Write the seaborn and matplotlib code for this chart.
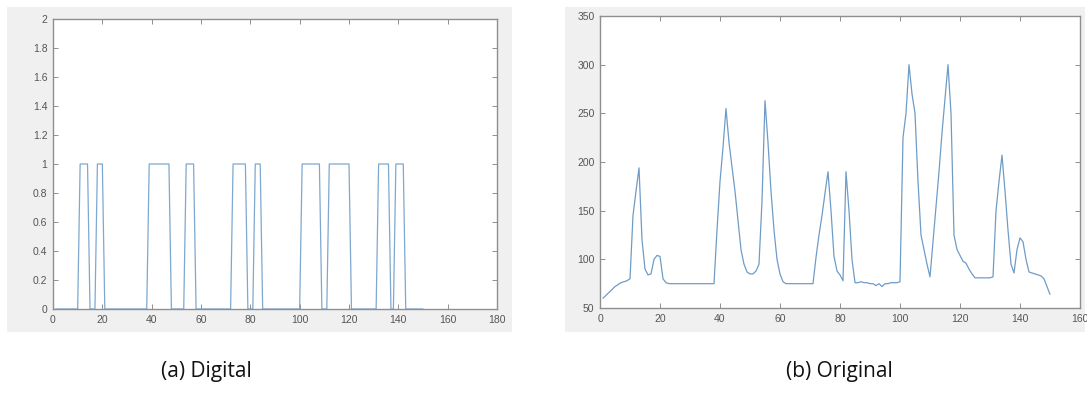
import numpy as np
import pandas as pd
import matplotlib
matplotlib.use("Agg")
import matplotlib.pyplot as plt
from matplotlib.patches import Rectangle
import seaborn as sns

# ---------------- data ----------------
sample_index = list(range(1, 151))

original_values = [
    60, 63, 66, 69, 72, 74, 76, 77, 78, 80,            # 1-10
    145, 170, 194, 120, 90, 84, 85, 100, 104, 103,     # 11-20
    80, 76, 75, 75, 75, 75, 75, 75, 75, 75,            # 21-30
    75, 75, 75, 75, 75, 75, 75, 75, 130, 180,          # 31-40
    215, 255, 220, 195, 170, 140, 110, 95, 87, 85,     # 41-50
    85, 88, 95, 160, 263, 220, 170, 130, 100, 85,      # 51-60
    77, 75, 75, 75, 75, 75, 75, 75, 75, 75,            # 61-70
    75, 102, 125, 145, 168, 190, 150, 103, 88, 84,     # 71-80
    78, 190, 150, 100, 76, 76, 77, 76, 76, 75,         # 81-90
    75, 73, 75, 72, 75, 75, 76, 76, 76, 77,            # 91-100
    225, 250, 300, 270, 250, 180, 125, 110, 95, 82,    # 101-110
    118, 155, 190, 230, 265, 300, 250, 125, 110, 104,  # 111-120
    98, 96, 90, 85, 81, 81, 81, 81, 81, 81,            # 121-130
    82, 150, 180, 207, 170, 130, 95, 86, 110, 122,     # 131-140
    118, 100, 87, 86, 85, 84, 83, 80, 72, 64,          # 141-150
]

digital_values = [
    0, 0, 0, 0, 0, 0, 0, 0, 0, 0,    # 1-10
    1, 1, 1, 1, 0, 0, 0, 1, 1, 1,    # 11-20
    0, 0, 0, 0, 0, 0, 0, 0, 0, 0,    # 21-30
    0, 0, 0, 0, 0, 0, 0, 0, 1, 1,    # 31-40
    1, 1, 1, 1, 1, 1, 1, 0, 0, 0,    # 41-50
    0, 0, 0, 1, 1, 1, 1, 0, 0, 0,    # 51-60
    0, 0, 0, 0, 0, 0, 0, 0, 0, 0,    # 61-70
    0, 0, 1, 1, 1, 1, 1, 1, 0, 0,    # 71-80
    0, 1, 1, 1, 0, 0, 0, 0, 0, 0,    # 81-90
    0, 0, 0, 0, 0, 0, 0, 0, 0, 0,    # 91-100
    1, 1, 1, 1, 1, 1, 1, 1, 0, 0,    # 101-110
    0, 1, 1, 1, 1, 1, 1, 1, 1, 1,    # 111-120
    0, 0, 0, 0, 0, 0, 0, 0, 0, 0,    # 121-130
    0, 1, 1, 1, 1, 1, 0, 0, 1, 1,    # 131-140
    1, 1, 0, 0, 0, 0, 0, 0, 0, 0,    # 141-150
]

digital_xticks = [0, 20, 40, 60, 80, 100, 120, 140, 160, 180]
digital_yticks = [0, 0.2, 0.4, 0.6, 0.8, 1, 1.2, 1.4, 1.6, 1.8, 2]
digital_yticklabels = ["0", "0.2", "0.4", "0.6", "0.8", "1", "1.2", "1.4", "1.6", "1.8", "2"]
original_xticks = [0, 20, 40, 60, 80, 100, 120, 140, 160]
original_yticks = [50, 100, 150, 200, 250, 300, 350]

captions = ["(a) Digital", "(b) Original"]

df_digital = pd.DataFrame({"x": sample_index, "y": digital_values})
df_original = pd.DataFrame({"x": sample_index, "y": original_values})

# ---------------- style ----------------
sns.set_style("white")
plt.rcParams["font.family"] = ["Liberation Sans", "DejaVu Sans"]

W, H = 1087, 393
fig = plt.figure(figsize=(W / 100, H / 100), dpi=100)
fig.patch.set_facecolor("white")

panel_bg = "#f0f0f0"
fig.patches.append(Rectangle((7 / W, 1 - 332 / H), 505 / W, 325 / H,
                             transform=fig.transFigure, facecolor=panel_bg,
                             edgecolor="none", zorder=-10))
fig.patches.append(Rectangle((565 / W, 1 - 332 / H), 520 / W, 325 / H,
                             transform=fig.transFigure, facecolor=panel_bg,
                             edgecolor="none", zorder=-10))

ax1 = fig.add_axes([53 / W, 1 - 309 / H, (497 - 53) / W, (309 - 19) / H])
ax2 = fig.add_axes([600 / W, 1 - 308 / H, (1080 - 600) / W, (308 - 16) / H])
ax1.set_zorder(5)
ax2.set_zorder(5)

line_color = "#7ea8cf"
sns.lineplot(data=df_digital, x="x", y="y", ax=ax1, color=line_color,
             linewidth=0.9, estimator=None, sort=False)
sns.lineplot(data=df_original, x="x", y="y", ax=ax2, color="#6f9cc6",
             linewidth=0.9, estimator=None, sort=False)

spine_color = "#8f8f8f"
label_color = "#555555"
for ax in (ax1, ax2):
    ax.set_facecolor("white")
    ax.set_xlabel("")
    ax.set_ylabel("")
    for s in ax.spines.values():
        s.set_visible(True)
        s.set_color(spine_color)
        s.set_linewidth(1.0)
        s.set_zorder(3)
    ax.tick_params(direction="in", length=3.5, width=0.7, color=spine_color,
                   labelcolor=label_color, labelsize=7.5, top=True, right=True,
                   left=True, bottom=True, pad=4)

ax1.set_xlim(0, 180)
ax1.set_ylim(0, 2)
ax1.set_xticks(digital_xticks)
ax1.set_xticklabels([str(v) for v in digital_xticks])
ax1.set_yticks(digital_yticks)
ax1.set_yticklabels(digital_yticklabels)

ax2.set_xlim(0, 160)
ax2.set_ylim(50, 350)
ax2.set_xticks(original_xticks)
ax2.set_xticklabels([str(v) for v in original_xticks])
ax2.set_yticks(original_yticks)
ax2.set_yticklabels([str(v) for v in original_yticks])

cap_font = ["Open Sans", "DejaVu Sans"]
fig.text(206 / W, 1 - 372 / H, captions[0], ha="center", va="center",
         fontsize=15, family=cap_font, color="#111111")
fig.text(839 / W, 1 - 372 / H, captions[1], ha="center", va="center",
         fontsize=15, family=cap_font, color="#111111")

fig.savefig("out.png", dpi=100, facecolor="white")
